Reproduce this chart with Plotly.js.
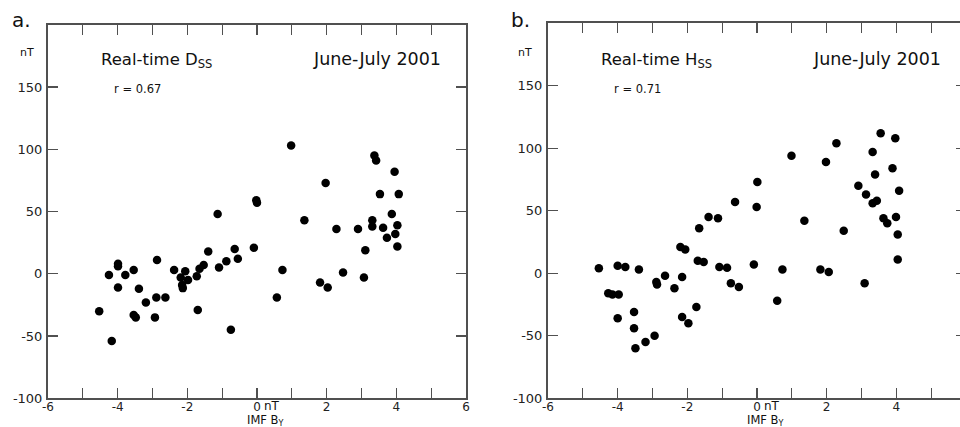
<!DOCTYPE html>
<html><head><meta charset="utf-8">
<script src="https://cdn.plot.ly/plotly-3.0.1.min.js"></script>
<style>
html,body{margin:0;padding:0;overflow:hidden;width:960px;height:427px;background:#fff}
#chart{width:975px;height:427px}
</style>
</head><body><div id="chart"></div>
<script>
// Panel a: Real-time Dss vs IMF By
const dssBy = [0.98,3.37,3.42,3.95,1.97,3.53,4.07,-0.02,0.00,-1.13,3.87,1.36,3.31,3.31,3.62,4.03,2.28,2.90,3.97,3.73,4.03,3.11,-1.40,-0.64,-0.09,-0.55,-0.88,-1.09,-1.53,-1.65,-2.87,-3.99,-3.99,-3.54,-2.38,-2.06,0.73,2.47,3.07,-4.25,-3.78,-2.19,-1.73,-1.98,-2.15,-2.13,-3.99,-3.39,1.81,2.03,-3.19,-2.89,-2.63,0.57,-4.53,-3.54,-3.48,-2.93,-1.70,-0.75,-4.17];
const dssVal = [103,95,91,82,73,64,64,59,57,48,48,43,43,38,37,39,36,36,32,29,22,19,18,20,21,12,10,5,7,4,11,8,6,3,3,2,3,1,-3,-1,-1,-3,-2,-5,-9,-11.5,-11,-12,-7,-11,-23,-19,-19,-19,-30,-33,-35,-35,-29,-45,-54];
// Panel b: Real-time Hss vs IMF By
const hssBy = [3.55,3.97,2.28,3.32,0.99,1.98,3.89,3.39,0.01,2.91,4.08,3.13,3.44,3.32,-0.63,-0.01,-1.39,-1.12,-1.66,1.36,3.63,3.99,3.74,2.49,4.04,-2.20,-2.06,4.04,-1.70,-1.53,-0.09,-4.54,-4.00,-3.78,-3.39,-1.08,-0.86,0.73,1.82,2.06,-2.64,-2.15,-2.89,-2.87,-2.37,-0.75,-0.52,3.09,-4.27,-4.15,-3.97,0.58,-1.74,-3.53,-4.00,-2.15,-1.97,-3.53,-2.94,-3.20,-3.49];
const hssVal = [112,108,104,97,94,89,84,79,73,70,66,63,58,56,57,53,45,44,36,42,44,45,40,34,31,21,19,11,10,9,7,4,6,5,3,5,4.5,3,3,1,-2,-3,-7,-9,-12,-8,-11,-8,-16,-17,-17,-22,-27,-31,-36,-35,-40,-44,-50,-55,-60];

const xTickValsA = [-6,-4,-2,0,2,4,6];
const xTickTextA = ['-6','-4','-2','0','2','4','6'];
const xTickValsB = [-6,-4,-2,0,2,4];      // "6" of panel b falls outside the picture
const xTickTextB = ['-6','-4','-2','0','2','4'];
const yTickVals = [-100,-50,0,50,100,150];
const yTickText = ['-100','-50','0','50','100','150'];
const panelLetters = ['a.','b.'];
const panelTitles = ['Real-time D<sub>SS</sub>','Real-time H<sub>SS</sub>'];
const periodText = 'June-July 2001';
const rTexts = ['r = 0.67','r = 0.71'];
const unitText = 'nT';
const xTitle = 'IMF B<sub>Y</sub>';

const W = 975, H = 427;
const px = v => v / W;
const py = v => 1 - v / H;
const FONT = 'DejaVu Sans, Arial, sans-serif';
const LINE = '#505050';

const marker = {color:'#000', size:8.5, line:{width:0}};
const traces = [
  {type:'scatter', mode:'markers', x:dssBy, y:dssVal, xaxis:'x', yaxis:'y', marker, hoverinfo:'skip'},
  {type:'scatter', mode:'markers', x:hssBy, y:hssVal, xaxis:'x2', yaxis:'y2', marker, hoverinfo:'skip'}
];

function xa(domain, anchor, tv, tt){
  return {domain, anchor, range:[-6,6], autorange:false, tickmode:'array', tickvals:tv, ticktext:tt,
    ticks:'inside', ticklen:10, tickwidth:1.3, tickcolor:LINE,
    minor:{tickmode:'linear', tick0:0, dtick:1, ticks:'inside', ticklen:10, tickwidth:1.3, tickcolor:LINE, showgrid:false},
    showline:true, linecolor:LINE, linewidth:2,
    mirror:'ticks', showgrid:false, zeroline:false, automargin:false, ticklabelstandoff:-4,
    tickfont:{family:FONT, size:12, color:'#222'}};
}
function ya(domain, anchor){
  return {domain, anchor, range:[-100,200], autorange:false, tickmode:'array', tickvals:yTickVals, ticktext:yTickText,
    ticks:'inside', ticklen:10, tickwidth:1.3, tickcolor:LINE, showline:true, linecolor:LINE, linewidth:2,
    mirror:'ticks', showgrid:false, zeroline:false, automargin:false, ticklabelstandoff:1,
    tickfont:{family:FONT, size:13, color:'#222'}};
}

const ann = [];
function t(text, x, y, size, xanchor){
  ann.push({text, x:px(x), y:py(y), xref:'paper', yref:'paper', showarrow:false,
    xanchor, yanchor:'middle', font:{family:FONT, size, color:'#111'}, borderpad:0});
}
const xs = [
  {letter:11, nT:26.5, title:100, period:442, r:113, title2:265, nT0:263},
  {letter:510, nT:525, title:600, period:942, r:612.7, title2:765, nT0:763}
];
for (let i=0;i<2;i++){
  const c = xs[i];
  t(panelLetters[i], c.letter, 20, 20, 'left');
  t(unitText, c.nT, 52, 11, 'center');
  t(panelTitles[i], c.title, 61, 16.5, 'left');
  t(periodText, c.period, 59, 17.5, 'right');
  t(rTexts[i], c.r, 89, 11.5, 'left');
  t(xTitle, c.title2, 420.5, 11.5, 'center');
  t(unitText, c.nT0, 405.5, 12, 'left');
}

const layout = {
  width:W, height:H, margin:{l:0,r:0,t:0,b:0}, paper_bgcolor:'#fff', plot_bgcolor:'#fff',
  showlegend:false,
  xaxis: xa([px(48), px(466)], 'y', xTickValsA, xTickTextA),
  yaxis: ya([1-398.3/H, 1-24.8/H], 'x'),
  xaxis2: xa([px(548), px(966)], 'y2', xTickValsB, xTickTextB),
  yaxis2: ya([1-398.3/H, 1-23.3/H], 'x2'),
  annotations: ann
};
Plotly.newPlot('chart', traces, layout, {staticPlot:true, displayModeBar:false});
</script>
</body></html>
